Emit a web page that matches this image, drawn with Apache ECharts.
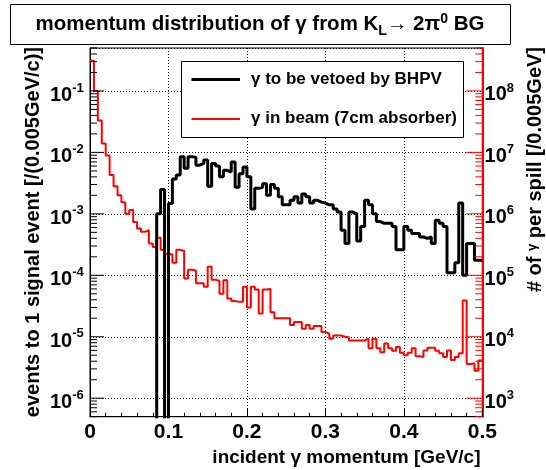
<!DOCTYPE html>
<html><head><meta charset="utf-8">
<script src="https://cdn.jsdelivr.net/npm/echarts@6/dist/echarts.min.js"></script>
<style>html,body{margin:0;padding:0;background:#fff}#c{width:546px;height:470px}</style>
</head><body><div id="c"></div>
<script>
// ---- data ----
const binWidth = 0.005;
// gamma to be vetoed by BHPV (left axis: events to 1 signal event per 0.005 GeV/c); 0 = empty bin
const vetoedValues = [
  0,0,0,0,0,0,0,0,0,0,
  0,0,0,0,0,0,0,1.0e-3,2.5e-3,0,
  1.48e-3,3.7e-3,4.3e-3,8.5e-3,5.5e-3,8.5e-3,8.3e-3,6.2e-3,6.6e-3,7.5e-3,
  2.8e-3,6.6e-3,6.0e-3,4.0e-3,5.1e-3,4.8e-3,7.0e-3,2.7e-3,4.5e-3,5.8e-3,
  4.0e-3,1.2e-3,2.6e-3,2.7e-3,3.1e-3,2.0e-3,3.0e-3,2.6e-3,1.9e-3,1.4e-3,
  1.4e-3,1.66e-3,1.9e-3,1.5e-3,2.1e-3,1.9e-3,1.5e-3,1.66e-3,1.55e-3,1.5e-3,
  1.4e-3,1.4e-3,1.2e-3,1.07e-3,5.4e-4,3.3e-4,1.07e-3,1.0e-3,3.6e-4,6.2e-4,
  1.66e-3,1.4e-3,1.0e-3,7.5e-4,7.0e-4,7.0e-4,7.0e-4,6.2e-4,2.6e-4,2.6e-4,
  6.2e-4,5.4e-4,4.8e-4,4.8e-4,4.2e-4,4.0e-4,4.2e-4,3.3e-4,7.9e-4,7.0e-4,
  6.2e-4,1.1e-4,1.1e-4,1.6e-4,1.5e-3,1.0e-4,3.3e-4,3.3e-4,1.75e-4,1.75e-4
];
// gamma in beam, 7cm absorber (right axis: # of gamma per spill per 0.005 GeV)
const beamValues = [
  3.1e8,1.0e8,3.3e7,1.4e7,8.9e6,4.3e6,2.8e6,2.0e6,1.55e6,1.0e6,
  1.15e6,7.4e5,5.8e5,5.1e5,5.4e5,3.3e5,2.9e5,4.1e5,2.6e5,2.2e5,
  2.2e5,1.6e5,2.6e5,2.5e5,8.9e4,1.23e5,1.2e5,7.4e4,7.4e4,6.5e4,
  1.38e5,8.5e4,8.1e4,5.0e4,8.3e4,4.2e4,3.8e4,3.7e4,3.7e4,6.5e4,
  3.0e4,6.5e4,5.9e4,2.4e4,5.9e4,6.0e4,2.5e4,2.0e4,2.0e4,2.0e4,
  2.0e4,1.55e4,1.74e4,1.74e4,1.35e4,1.55e4,1.35e4,1.5e4,1.5e4,1.2e4,
  1.12e4,9.3e3,1.05e4,1.05e4,1.0e4,9.8e3,8.7e3,8.7e3,8.7e3,8.7e3,
  9.3e3,6.5e3,9.3e3,6.5e3,5.6e3,7.8e3,6.5e3,5.9e3,6.8e3,5.5e3,
  5.0e3,5.5e3,6.5e3,4.8e3,4.7e3,6.0e3,6.6e3,6.6e3,5.9e3,5.4e3,
  4.7e3,6.0e3,4.2e3,4.7e3,5.4e3,3.9e4,3.6e3,3.7e3,2.8e3,4.1e3
];
const xTickLabels = ['0','0.1','0.2','0.3','0.4','0.5'];
const leftDecades = [-6,-5,-4,-3,-2,-1];
const rightDecades = [3,4,5,6,7,8];
const leftRange = [5e-7, 0.5];
const rightRange = [5e2, 5e8];

// ---- helpers ----
const FF = '"Liberation Sans", Arial, Helvetica, sans-serif';
const baseFont = 'bold 20px ' + FF;
const supFont = 'bold 13px ' + FF;
const mctx = document.createElement('canvas').getContext('2d');
function tw(s, f){ mctx.font = f; return mctx.measureText(s).width; }

function histPoints(vals, floorVal){
  const pts = [];
  for (let i = 0; i < vals.length; i++) pts.push([i*binWidth, vals[i] > 0 ? vals[i] : floorVal]);
  const last = vals[vals.length-1];
  pts.push([vals.length*binWidth, last > 0 ? last : floorVal]);
  return pts;
}
function logTickData(range, xPos){
  const out = [];
  const lo = Math.floor(Math.log10(range[0])), hi = Math.ceil(Math.log10(range[1]));
  for (let n = lo; n <= hi; n++) for (let k = 1; k <= 9; k++){
    const v = k*Math.pow(10,n);
    if (v >= range[0]*0.999 && v <= range[1]*1.001) out.push([xPos, v, k===1?1:0]);
  }
  return out;
}

const chart = echarts.init(document.getElementById('c'), null, {renderer:'canvas'});
const gridL = 90, gridR = 63.7, gridT = 48, gridB = 53.3;

const option = {
  animation: false,
  backgroundColor: '#fff',
  grid: {left: gridL, right: gridR, top: gridT, bottom: gridB, show: true, borderColor: '#000', borderWidth: 1, backgroundColor: 'transparent'},
  xAxis: {
    type: 'value', min: 0, max: 0.5, interval: 0.1,
    axisLine: {onZero:false, lineStyle:{color:'#000', width:1}},
    axisTick: {inside:true, length:8, lineStyle:{color:'#000'}},
    minorTick: {show:true, splitNumber:5, length:4, lineStyle:{color:'#000'}},
    splitLine: {show:true, lineStyle:{color:'#000', width:1, type:[1,2]}},
    axisLabel: {color:'#000', fontSize:21, fontWeight:'bold', fontFamily:FF, margin:16, verticalAlign:'middle',
      formatter: (v) => xTickLabels[Math.round(v/0.1)]}
  },
  yAxis: [
    {type:'log', logBase:10, min:leftRange[0], max:leftRange[1], position:'left',
     axisLine:{show:true, lineStyle:{color:'#000', width:1}}, axisTick:{show:false}, axisLabel:{show:false},
     splitLine:{show:true, lineStyle:{color:'#000', width:1, type:[1,2]}}},
    {type:'log', logBase:10, min:rightRange[0], max:rightRange[1], position:'right',
     axisLine:{show:true, lineStyle:{color:'#ff0000', width:2}}, axisTick:{show:false}, axisLabel:{show:false},
     splitLine:{show:false}}
  ],
  series: [
    {type:'line', name:'beam', yAxisIndex:1, step:'end', showSymbol:false, symbol:'none', clip:true,
     data: histPoints(beamValues, 1), lineStyle:{color:'#ff0000', width:2}, z:3},
    {type:'line', name:'vetoed', yAxisIndex:0, step:'end', showSymbol:false, symbol:'none', clip:true,
     data: histPoints(vetoedValues, 1e-9), lineStyle:{color:'#000', width:3}, z:4},
    {type:'custom', yAxisIndex:0, silent:true, z:6, clip:false,
     data: logTickData(leftRange, 0),
     renderItem: (p, api) => {
       const c = api.coord([0, api.value(1)]);
       const len = api.value(2) ? 14 : 7;
       return {type:'line', shape:{x1:c[0], y1:c[1], x2:c[0]+len, y2:c[1]}, style:{stroke:'#000', lineWidth:1}};
     }},
    {type:'custom', yAxisIndex:1, silent:true, z:6, clip:false,
     data: logTickData(rightRange, 0.5),
     renderItem: (p, api) => {
       const c = api.coord([0.5, api.value(1)]);
       const len = api.value(2) ? 16 : 7;
       return {type:'line', shape:{x1:c[0]-len, y1:c[1], x2:c[0], y2:c[1]}, style:{stroke:'#ff0000', lineWidth:1}};
     }},
    {type:'custom', yAxisIndex:0, silent:true, z:6, clip:false,
     data: leftDecades.map(e => [0, Math.pow(10,e), e]),
     renderItem: (p, api) => {
       const c = api.coord([0, api.value(1)]);
       const ex = String(api.value(2));
       const xr = c[0] - 6.3;
       const ew = tw(ex, supFont);
       return {type:'group', children:[
         {type:'text', x:xr-ew, y:c[1]+4.5, style:{text:'10', font:baseFont, fill:'#000', align:'right', verticalAlign:'middle'}},
         {type:'text', x:xr, y:c[1]-3, style:{text:ex, font:supFont, fill:'#000', align:'right', verticalAlign:'middle'}}
       ]};
     }},
    {type:'custom', yAxisIndex:1, silent:true, z:6, clip:false,
     data: rightDecades.map(e => [0.5, Math.pow(10,e), e]),
     renderItem: (p, api) => {
       const c = api.coord([0.5, api.value(1)]);
       const ex = String(api.value(2));
       const xl = c[0] + 2.3;
       const bw = tw('10', baseFont);
       return {type:'group', children:[
         {type:'text', x:xl, y:c[1]+4, style:{text:'10', font:baseFont, fill:'#000', align:'left', verticalAlign:'middle'}},
         {type:'text', x:xl+bw, y:c[1]-3, style:{text:ex, font:supFont, fill:'#000', align:'left', verticalAlign:'middle'}}
       ]};
     }}
  ],
  graphic: [
    {type:'rect', shape:{x:10.5, y:4.5, width:500, height:40}, style:{fill:'#fff', stroke:'#000', lineWidth:1}, z:10},
    {type:'text', x:260, y:24, z:11, style:{
      text:'{n|momentum distribution of γ from K}{sub|L}{n|→ 2π}{sup|0}{n| BG}',
      align:'center', verticalAlign:'middle', fill:'#000',
      rich:{
        n:{fontSize:20.5, fontWeight:'bold', fontFamily:FF, fill:'#000'},
        sub:{fontSize:14, fontWeight:'bold', fontFamily:FF, fill:'#000', padding:[14,0,0,0]},
        sup:{fontSize:14, fontWeight:'bold', fontFamily:FF, fill:'#000', padding:[0,0,10,0]}
      }}},
    {type:'rect', shape:{x:181.5, y:61.5, width:282, height:76}, style:{fill:'#fff', stroke:'#000', lineWidth:1}, z:10},
    {type:'line', shape:{x1:191.5, y1:79.5, x2:240, y2:79.5}, style:{stroke:'#000', lineWidth:3}, z:11},
    {type:'line', shape:{x1:191.5, y1:119, x2:240, y2:119}, style:{stroke:'#ff0000', lineWidth:2}, z:11},
    {type:'text', x:251, y:79, z:11, style:{text:'γ to be vetoed by BHPV', font:'bold 17px '+FF, fill:'#000', align:'left', verticalAlign:'middle'}},
    {type:'text', x:251, y:118, z:11, style:{text:'γ in beam (7cm absorber)', font:'bold 17px '+FF, fill:'#000', align:'left', verticalAlign:'middle'}},
    {type:'text', x:480.5, y:457.5, z:11, style:{text:'incident γ momentum [GeV/c]', font:'bold 19px '+FF, fill:'#000', align:'right', verticalAlign:'middle'}},
    {type:'text', x:33, y:47, rotation:Math.PI/2, z:11, style:{text:'events to 1 signal event [/(0.005GeV/c)]', font:'bold 20px '+FF, fill:'#000', align:'right', verticalAlign:'middle'}},
    {type:'text', x:535.5, y:47, rotation:Math.PI/2, z:11, style:{
      text:'{a|# of }{g|γ}{a| per spill [/0.005GeV]}', align:'right', verticalAlign:'middle', fill:'#000',
      rich:{a:{fontSize:20, fontWeight:'bold', fontFamily:FF, fill:'#000'}, g:{fontSize:13, fontWeight:'bold', fontFamily:FF, fill:'#000', padding:[0,0,6,0]}}}}
  ]
};
chart.setOption(option);
</script>
</body></html>
